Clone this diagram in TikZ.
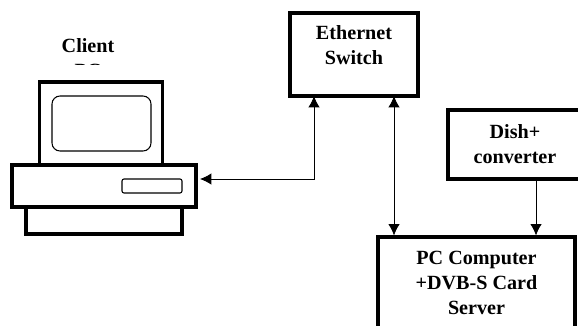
\documentclass[tikz,border=0pt]{standalone}
\usepackage{fontspec}
\setmainfont{Liberation Serif}
\usetikzlibrary{arrows.meta}
\tikzset{
  boxnode/.style={draw, line width=2.3pt, inner sep=0pt, align=center, font=\bfseries\fontsize{15.1}{18.75}\selectfont},
  textnode/.style={inner sep=0pt, align=center, font=\bfseries\fontsize{15.1}{18.75}\selectfont},
  partnode/.style={draw, fill=white, inner sep=0pt, line width=2.4pt},
  thinpart/.style={draw, inner sep=0pt, line width=0.8pt},
  linkline/.style={line width=0.6pt, {Latex[length=8.5pt,width=8.5pt]}-},
  bothline/.style={line width=0.6pt, {Latex[length=8.5pt,width=8.5pt]}-{Latex[length=8.5pt,width=8.5pt]}},
}

\begin{document}
\begin{tikzpicture}[x=0.75pt,y=-0.75pt]
            \useasboundingbox (0,0) rectangle (578,325);
            \clip (0,0) rectangle (578,325);

            % client computer
            \node [textnode] (clienttext) at (88,58) {Client\\PC};
            \fill [white] (40,64.5) rectangle (140,81);
            \node [partnode, minimum width=92.25pt, minimum height=62.25pt] (monitor) at (101.25,123.5) {};
            \node [thinpart, rounded corners=6pt, minimum width=74.25pt, minimum height=41.25pt] (screen) at (101.5,123.5) {};
            \node [partnode, minimum width=117pt, minimum height=20.25pt] (stand) at (104,220.5) {};
            \node [partnode, minimum width=138pt, minimum height=31.5pt] (base) at (104,186) {};
            \node [thinpart, rounded corners=1.5pt, minimum width=45pt, minimum height=10.5pt] (slot) at (152,186) {};

            % boxes on the right
            \node [boxnode, minimum width=96pt, minimum height=62.25pt] (switch) at (354,54.5) {};
            \node [textnode] (switchtext) at (354,45.5) {Ethernet\\Switch};
            \node [boxnode, minimum width=100.5pt, minimum height=51.75pt] (dish) at (515,144.5) {Dish+\\converter};
            \node [boxnode, minimum width=147.75pt, minimum height=69pt] (server) at (476.5,283) {PC Computer\\+DVB-S Card\\Server};

            \coordinate (baseport) at (200,179);
            \coordinate (switchleft) at (314,96);
            \coordinate (switchdown) at (394,96);
            \coordinate (dishdown) at (536,179);

            \draw [bothline] (baseport) -| (switchleft);
            \draw [bothline] (switchdown) -- (switchdown |- server.north);
            \draw [linkline] (dishdown |- server.north) -- (dishdown);
\end{tikzpicture}
\end{document}
